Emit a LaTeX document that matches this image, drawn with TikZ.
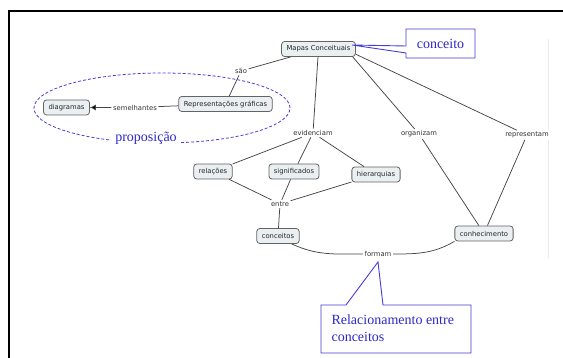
\documentclass[tikz,border=0pt]{standalone}
\usepackage{fontspec}
\setmainfont{Liberation Serif}
\newfontfamily\cmapfont{DejaVu Sans}
\usetikzlibrary{arrows.meta}

\definecolor{cmapfill}{RGB}{234,239,241}
\definecolor{cmapedge}{RGB}{100,100,100}
\definecolor{cmapline}{RGB}{70,70,70}
\definecolor{noteblue}{RGB}{70,60,215}
\definecolor{notetext}{RGB}{45,40,200}

\tikzset{
  concept/.style={draw=cmapedge, fill=cmapfill, rounded corners=3pt, line width=0.8pt,
    minimum height=15pt, inner xsep=5pt, inner ysep=0pt,
    font=\cmapfont\fontsize{6.8}{8}\selectfont, text=black!85},
  phrase/.style={fill=white, inner sep=1.5pt, font=\cmapfont\fontsize{6.8}{8}\selectfont, text=black!80},
  link/.style={draw=cmapline, line width=0.75pt},
  note/.style={draw=noteblue, line width=0.9pt, fill=white},
  notetxt/.style={text=notetext, font=\fontsize{14}{17}\selectfont}
}

\begin{document}
\begin{tikzpicture}[x=1pt,y=1pt]
  \useasboundingbox (0,0) rectangle (563,-358);

  % frame
  \draw[line width=2pt] (9,-358) -- (9,-11) -- (563,-11);
  \draw[black!8, line width=0.8pt] (548,-39) -- (548,-258);

  % proposicao ellipse
  \draw[noteblue, line width=0.8pt, dash pattern=on 3pt off 2pt] (162,-108) ellipse [x radius=128pt, y radius=35pt];
  \node[notetxt, fill=white, inner xsep=4pt, inner ysep=1pt] (proposicao) at (146,-138) {proposição};

  % concepts
  \node[concept] (mapas) at (318.5,-49) {Mapas Conceituais};
  \node[concept] (repr) at (225.5,-104) {Representações gráficas};
  \node[concept] (diagramas) at (66.5,-107.5) {diagramas};
  \node[concept] (relacoes) at (213,-171.5) {relações};
  \node[concept] (significados) at (294,-171.5) {significados};
  \node[concept] (hierarquias) at (376,-174.5) {hierarquias};
  \node[concept] (conceitos) at (278,-236) {conceitos};
  \node[concept] (conhecimento) at (484,-233.5) {conhecimento};

  % linking phrases
  \node[phrase] (sao) at (241,-71) {são};
  \node[phrase] (semelhantes) at (135,-107.5) {semelhantes};
  \node[phrase] (evidenciam) at (313,-133) {evidenciam};
  \node[phrase] (organizam) at (419,-134) {organizam};
  \node[phrase] (representam) at (527,-135) {representam};
  \node[phrase] (entre) at (280,-204) {entre};
  \node[phrase] (formam) at (378,-254) {formam};

  % links
  \draw[link] (mapas) -- (sao) -- (repr);
  \draw[link, -{Latex[length=6pt,width=6pt,fill=black]}] (repr) -- (semelhantes) -- (diagramas);
  \draw[link] (mapas) -- (evidenciam);
  \draw[link] (evidenciam) -- (relacoes);
  \draw[link] (evidenciam) -- (significados);
  \draw[link] (evidenciam) -- (hierarquias);
  \draw[link] (relacoes) -- (entre);
  \draw[link] (significados) -- (entre);
  \draw[link] (hierarquias) -- (entre);
  \draw[link] (entre) -- (conceitos);
  \draw[link] (mapas.-13) -- (organizam) -- (conhecimento);
  \draw[link] (mapas.-8) -- (representam) -- (conhecimento);
  \draw[link] (conceitos.-30) to[out=-25,in=180] (formam)
    to[out=0,in=-150] (conhecimento.south west);

  % callout: conceito
  \draw[note] (406,-29) -- (475,-29) -- (475,-58) -- (406,-58) -- (406,-53)
    -- (352,-45) -- (406,-46) -- cycle;
  \node[notetxt] (conceito) at (440.5,-43.5) {conceito};

  % callout: relacionamento
  \draw[note] (321,-305) -- (346,-305) -- (378,-262) -- (383,-305) -- (471,-305)
    -- (471,-353) -- (321,-353) -- cycle;
  \node[notetxt, anchor=west, align=left] (relacionamento) at (328,-328)
    {Relacionamento entre\\conceitos};
\end{tikzpicture}
\end{document}
